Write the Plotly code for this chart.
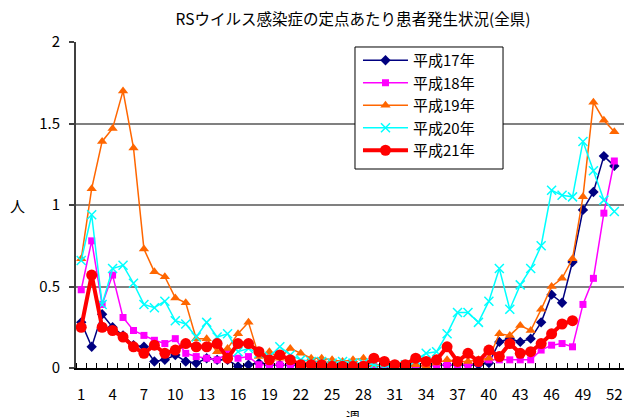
import plotly.graph_objects as go

weeks = list(range(1, 53))
tick_weeks = [1, 4, 7, 10, 13, 16, 19, 22, 25, 28, 31, 34, 37, 40, 43, 46, 49, 52]

h17 = [0.28, 0.13, 0.33, 0.25, 0.20, 0.14, 0.13, 0.04, 0.05, 0.08, 0.04, 0.03, 0.06,
       0.05, 0.05, 0.01, 0.02, 0.03, 0.02, 0.02, 0.02, 0.01, 0.01, 0.01, 0.01, 0.01,
       0.01, 0.01, 0.01, 0.01, 0.01, 0.01, 0.01, 0.01, 0.02, 0.02, 0.02, 0.02, 0.02,
       0.03, 0.16, 0.18, 0.16, 0.18, 0.28, 0.45, 0.40, 0.65, 0.97, 1.08, 1.30, 1.24]
h18 = [0.48, 0.78, 0.39, 0.57, 0.31, 0.23, 0.20, 0.17, 0.15, 0.18, 0.09, 0.07, 0.06,
       0.05, 0.09, 0.06, 0.07, 0.02, 0.02, 0.02, 0.02, 0.02, 0.02, 0.02, 0.02, 0.02,
       0.02, 0.02, 0.01, 0.01, 0.01, 0.01, 0.01, 0.01, 0.02, 0.02, 0.02, 0.02, 0.03,
       0.05, 0.05, 0.05, 0.05, 0.05, 0.11, 0.14, 0.15, 0.13, 0.39, 0.55, 0.95, 1.27]
h19 = [0.67, 1.10, 1.39, 1.47, 1.70, 1.35, 0.73, 0.59, 0.56, 0.43, 0.40, 0.18, 0.18,
       0.10, 0.12, 0.21, 0.28, 0.07, 0.10, 0.06, 0.12, 0.09, 0.06, 0.06, 0.05, 0.04,
       0.05, 0.06, 0.02, 0.02, 0.01, 0.02, 0.02, 0.01, 0.03, 0.05, 0.04, 0.04, 0.05,
       0.06, 0.21, 0.20, 0.26, 0.23, 0.36, 0.50, 0.55, 0.67, 1.05, 1.63, 1.52, 1.45]
h20 = [0.66, 0.94, 0.39, 0.61, 0.63, 0.52, 0.39, 0.37, 0.41, 0.29, 0.27, 0.19, 0.28,
       0.19, 0.21, 0.10, 0.12, 0.09, 0.07, 0.13, 0.08, 0.05, 0.04, 0.04, 0.03, 0.04,
       0.03, 0.03, 0.02, 0.01, 0.01, 0.02, 0.05, 0.09, 0.10, 0.21, 0.34, 0.34, 0.28,
       0.41, 0.61, 0.36, 0.51, 0.61, 0.75, 1.09, 1.06, 1.05, 1.39, 1.21, 1.03, 0.96]
h21 = [0.25, 0.57, 0.25, 0.23, 0.19, 0.13, 0.09, 0.14, 0.09, 0.11, 0.15, 0.13, 0.13,
       0.15, 0.06, 0.15, 0.15, 0.10, 0.05, 0.08, 0.05, 0.02, 0.02, 0.02, 0.01, 0.01,
       0.01, 0.01, 0.06, 0.04, 0.02, 0.02, 0.06, 0.04, 0.05, 0.13, 0.04, 0.09, 0.04,
       0.11, 0.07, 0.15, 0.09, 0.10, 0.15, 0.21, 0.27, 0.29]

FONT = "Noto Sans CJK JP, Noto Sans, sans-serif"

fig = go.Figure()
fig.add_trace(go.Scatter(x=weeks, y=h17, name="平成17年", mode="lines+markers",
                         line=dict(color="#000080", width=1.5),
                         marker=dict(symbol="diamond", size=8, color="#000080")))
fig.add_trace(go.Scatter(x=weeks, y=h18, name="平成18年", mode="lines+markers",
                         line=dict(color="#FF00FF", width=1.5),
                         marker=dict(symbol="square", size=7, color="#FF00FF")))
fig.add_trace(go.Scatter(x=weeks, y=h19, name="平成19年", mode="lines+markers",
                         line=dict(color="#FF6600", width=1.5),
                         marker=dict(symbol="triangle-up", size=9, color="#FF6600")))
fig.add_trace(go.Scatter(x=weeks, y=h20, name="平成20年", mode="lines+markers",
                         line=dict(color="#00FFFF", width=1.5),
                         marker=dict(symbol="x-thin", size=9,
                                     line=dict(color="#00FFFF", width=1.5))))
fig.add_trace(go.Scatter(x=weeks[:len(h21)], y=h21, name="平成21年", mode="lines+markers",
                         line=dict(color="#FF0000", width=4),
                         marker=dict(symbol="circle", size=11, color="#FF0000")))

fig.update_layout(
    width=624, height=409,
    margin=dict(l=68, r=2, t=34, b=49),
    paper_bgcolor="white", plot_bgcolor="white",
    font=dict(family=FONT, size=15, color="black"),
    title=dict(text="RSウイルス感染症の定点あたり患者発生状況(全県)",
               x=0.5, xref="paper", y=1 - 12 / 409, yref="container",
               xanchor="center", yanchor="middle",
               font=dict(size=15.5, color="black", family=FONT)),
    legend=dict(x=0.509, y=0.9939, xanchor="left", yanchor="top",
                bgcolor="rgba(0,0,0,0)", borderwidth=0, itemwidth=45,
                font=dict(size=15, family=FONT), tracegroupgap=0),
    showlegend=True,
)
fig.update_xaxes(range=[0.5, 53.5], tickmode="array", tickvals=tick_weeks,
                 ticktext=[str(w) for w in tick_weeks], ticks="",
                 showgrid=False, zeroline=False,
                 showline=True, linecolor="black", linewidth=2,
                 ticklabelstandoff=12,
                 minor=dict(tickmode="array",
                            tickvals=[0.5 + i for i in range(54)],
                            ticks="inside", ticklen=5, tickcolor="black",
                            tickwidth=1, showgrid=False))
fig.update_yaxes(range=[0, 2], tickmode="array", tickvals=[0, 0.5, 1, 1.5, 2],
                 ticktext=["0", "0.5", "1", "1.5", "2"],
                 ticks="outside", ticklen=5, tickcolor="#404040", tickwidth=2,
                 showgrid=True, gridcolor="#808080", gridwidth=1.5,
                 zeroline=False, showline=True, linecolor="#404040", linewidth=2,
                 ticklabelstandoff=6)
fig.add_shape(type="line", xref="paper", yref="paper", x0=1, x1=1, y0=0, y1=1,
              line=dict(color="#808080", width=1.5))
# legend frame
fig.add_shape(type="rect", xref="paper", yref="paper",
              x0=0.5036, x1=0.7708, y0=0.6104, y1=0.9847,
              fillcolor="white", line=dict(color="black", width=1), layer="above")
fig.add_annotation(text="人", xref="paper", yref="paper", x=-0.105, y=0.5,
                   xanchor="center", yanchor="middle", showarrow=False,
                   font=dict(size=15, family=FONT))
fig.add_annotation(text="週", xref="paper", yref="paper", x=0.5, y=0,
                   yshift=-36, xanchor="center", yanchor="top", showarrow=False,
                   font=dict(size=14, family=FONT))

fig.write_html("out.html")
